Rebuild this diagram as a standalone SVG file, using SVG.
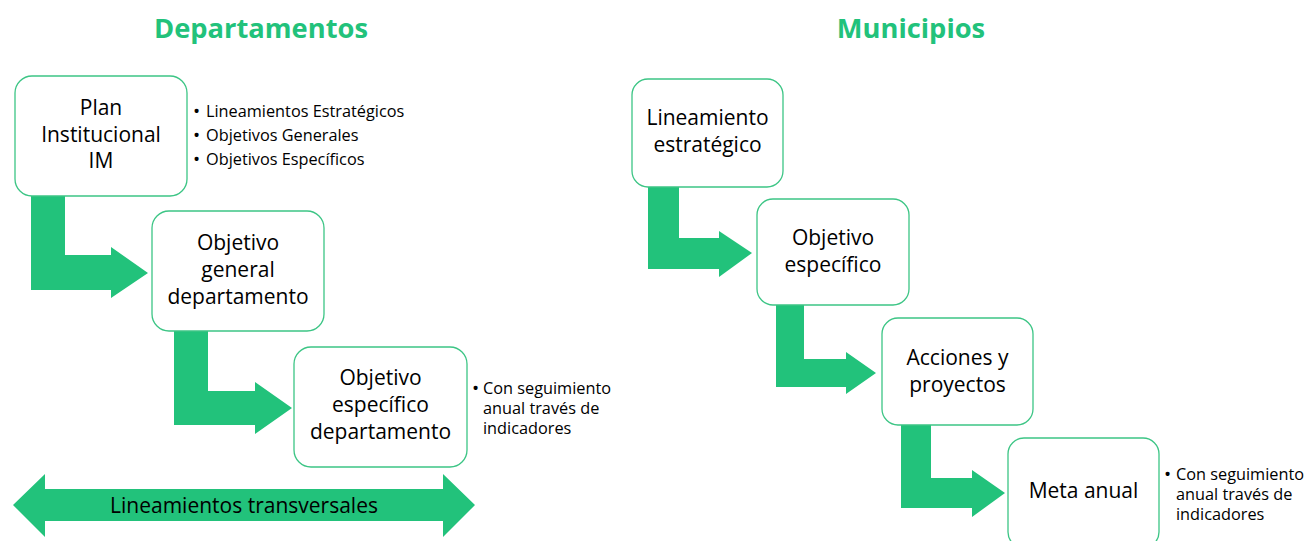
<svg xmlns="http://www.w3.org/2000/svg" width="1305" height="541" viewBox="0 0 1305 541">
  <style>
    .box { fill: #ffffff; stroke: #3CC585; stroke-width: 1.3; }
    .arrow { fill: #22C27B; stroke: none; }
    .lbl { font-family: "Open Sans", "Liberation Sans", sans-serif; font-size: 21px; fill: #000000; text-anchor: middle; }
    .bul { font-family: "Open Sans", "Liberation Sans", sans-serif; font-size: 16.3px; fill: #000000; }
    .dot { font-family: "Open Sans", "Liberation Sans", sans-serif; font-size: 19px; fill: #000000; }
    .title { font-family: "Open Sans", "Liberation Sans", sans-serif; font-size: 27.3px; font-weight: bold; fill: #22C27B; text-anchor: middle; }
    .band { font-family: "Open Sans", "Liberation Sans", sans-serif; font-size: 21px; fill: #000000; text-anchor: middle; }
  </style>
  <rect width="1305" height="541" fill="#ffffff"/>

  <text class="title" x="261" y="38">Departamentos</text>
  <text class="title" x="911" y="38">Municipios</text>

  <g id="connectors">
    <path class="arrow" d="M31,196 H65 V255 H111 V247 L148,273 L111,298 V290 H31 Z"/>
    <path class="arrow" d="M174,331 H208 V391 H255 V382 L292,408 L255,434 V425 H174 Z"/>
    <path class="arrow" d="M648,187 H679 V238 H719 V231 L752,253 L719,277 V269 H648 Z"/>
    <path class="arrow" d="M776,305 H804 V359 H846 V352 L876,373 L846,394 V387 H776 Z"/>
    <path class="arrow" d="M901,425 H931 V478 H972 V470 L1005,493 L972,517 V508 H901 Z"/>
  </g>

  <g id="band">
    <path class="arrow" d="M13,505 L45,474 V489 H443 V474 L475,505 L443,537 V521 H45 V537 Z"/>
    <text class="band" x="244" y="513">Lineamientos transversales</text>
  </g>

  <g id="plan">
    <rect class="box" x="15" y="76" width="172" height="120" rx="17"/>
    <text class="lbl" x="101" y="115">Plan</text>
    <text class="lbl" x="101" y="142">Institucional</text>
    <text class="lbl" x="101" y="168">IM</text>
  </g>
  <g id="plan-notes">
    <text class="dot" x="193" y="118">•</text>
    <text class="bul" x="206" y="117">Lineamientos Estratégicos</text>
    <text class="dot" x="193" y="142">•</text>
    <text class="bul" x="206" y="141">Objetivos Generales</text>
    <text class="dot" x="193" y="166">•</text>
    <text class="bul" x="206" y="165">Objetivos Específicos</text>
  </g>

  <g id="obj-general">
    <rect class="box" x="152" y="211" width="172" height="120" rx="17"/>
    <text class="lbl" x="238" y="250">Objetivo</text>
    <text class="lbl" x="238" y="277">general</text>
    <text class="lbl" x="238" y="304">departamento</text>
  </g>

  <g id="obj-especifico-dep">
    <rect class="box" x="294" y="347" width="173" height="120" rx="17"/>
    <text class="lbl" x="380.5" y="385">Objetivo</text>
    <text class="lbl" x="380.5" y="412">específico</text>
    <text class="lbl" x="380.5" y="439">departamento</text>
  </g>
  <g id="dep-notes">
    <text class="dot" x="472" y="395">•</text>
    <text class="bul" x="483" y="394">Con seguimiento</text>
    <text class="bul" x="483" y="414">anual través de</text>
    <text class="bul" x="483" y="434">indicadores</text>
  </g>

  <g id="lineamiento">
    <rect class="box" x="632" y="79" width="151" height="108" rx="16"/>
    <text class="lbl" x="707.5" y="125">Lineamiento</text>
    <text class="lbl" x="707.5" y="152">estratégico</text>
  </g>

  <g id="obj-especifico">
    <rect class="box" x="757" y="199" width="152" height="106" rx="16"/>
    <text class="lbl" x="833" y="245">Objetivo</text>
    <text class="lbl" x="833" y="272">específico</text>
  </g>

  <g id="acciones">
    <rect class="box" x="882" y="318" width="151" height="107" rx="16"/>
    <text class="lbl" x="957.5" y="365">Acciones y</text>
    <text class="lbl" x="957.5" y="392">proyectos</text>
  </g>

  <g id="meta">
    <rect class="box" x="1008" y="438" width="151" height="110" rx="16"/>
    <text class="lbl" x="1083.5" y="498">Meta anual</text>
  </g>
  <g id="meta-notes">
    <text class="dot" x="1164" y="481">•</text>
    <text class="bul" x="1176" y="480">Con seguimiento</text>
    <text class="bul" x="1176" y="500">anual través de</text>
    <text class="bul" x="1176" y="520">indicadores</text>
  </g>
</svg>
